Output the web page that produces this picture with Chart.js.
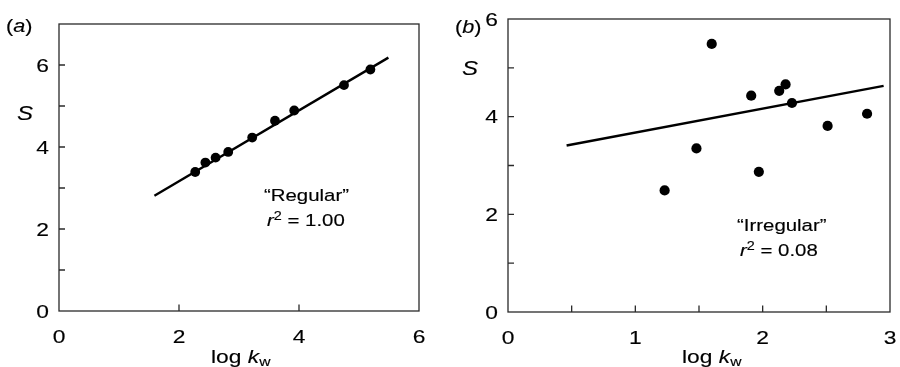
<!DOCTYPE html>
<html>
<head>
<meta charset="utf-8">
<script src="https://cdn.jsdelivr.net/npm/chart.js@4"></script>
<style>
  html, body { margin: 0; padding: 0; background: #fff; }
  #wrap { position: relative; width: 900px; height: 367px; }
  canvas { position: absolute; top: 0; }
  #chartA { left: 0; }
  #chartB { left: 450px; }
</style>
</head>
<body>
<div id="wrap">
  <canvas id="chartA" width="450" height="367"></canvas>
  <canvas id="chartB" width="450" height="367"></canvas>
</div>
<script>
// panel (a) "Regular"
const aX = [2.27, 2.44, 2.61, 2.82, 3.22, 3.60, 3.92, 4.75, 5.19];
const aY = [3.39, 3.62, 3.74, 3.88, 4.23, 4.64, 4.89, 5.51, 5.89];
const aFitX = [1.59, 5.49];
const aFitY = [2.81, 6.18];
const aXLabels = [0, 2, 4, 6];
const aYLabels = [0, 2, 4, 6];

// panel (b) "Irregular"
const bX = [1.23, 1.48, 1.60, 1.91, 1.97, 2.13, 2.18, 2.23, 2.51, 2.82];
const bY = [2.49, 3.35, 5.49, 4.43, 2.87, 4.53, 4.66, 4.28, 3.81, 4.06];
const bFitX = [0.46, 2.95];
const bFitY = [3.41, 4.63];
const bXLabels = [0, 1, 2, 3];
const bYLabels = [0, 2, 4, 6];

const FONT = '"Liberation Sans", Arial, Helvetica, sans-serif';
const SX = 1.2; // the original lettering is a little wide
const INK = '#000';

function toPoints(xs, ys) {
  return xs.map((x, i) => ({ x: x, y: ys[i] }));
}

function font(p) {
  return (p.it ? 'italic ' : '') + (p.size || 18) + 'px ' + FONT;
}

function drawRuns(ctx, parts, x, y, align) {
  let total = 0;
  const widths = parts.map(p => {
    ctx.font = font(p);
    const w = ctx.measureText(p.t).width * SX;
    total += w;
    return w;
  });
  let cx = x;
  if (align === 'right') cx = x - total;
  if (align === 'center') cx = x - total / 2;
  ctx.fillStyle = INK;
  ctx.strokeStyle = INK;
  ctx.lineWidth = 0.15;
  ctx.textBaseline = 'alphabetic';
  ctx.textAlign = 'left';
  parts.forEach((p, i) => {
    ctx.save();
    ctx.font = font(p);
    ctx.translate(cx, y + (p.dy || 0));
    ctx.scale(SX, 1);
    ctx.fillText(p.t, 0, 0);
    ctx.strokeText(p.t, 0, 0);
    ctx.restore();
    cx += widths[i];
  });
}

// frame, inward ticks, tick labels and the lettering
function framePlugin(cfg) {
  return {
    id: 'frame',
    afterDraw(chart) {
      const ctx = chart.ctx;
      const a = chart.chartArea;
      const xs = chart.scales.x, ys = chart.scales.y;
      ctx.save();
      ctx.strokeStyle = '#2a2a2a';
      ctx.lineWidth = 1.3;
      ctx.strokeRect(a.left, a.top, a.right - a.left, a.bottom - a.top);

      ctx.beginPath();
      xs.ticks.forEach(t => {
        if (t.value <= xs.min || t.value >= xs.max) return;
        const px = xs.getPixelForValue(t.value);
        ctx.moveTo(px, a.bottom);
        ctx.lineTo(px, a.bottom - 6.5);
      });
      ys.ticks.forEach(t => {
        if (t.value <= ys.min || t.value >= ys.max) return;
        const py = ys.getPixelForValue(t.value);
        ctx.moveTo(a.left, py);
        ctx.lineTo(a.left + 6, py);
      });
      ctx.stroke();

      cfg.xLabels.forEach(v => {
        drawRuns(ctx, [{ t: String(v), size: 19 }], xs.getPixelForValue(v), a.bottom + 32, 'center');
      });
      cfg.yLabels.forEach(v => {
        drawRuns(ctx, [{ t: String(v), size: 19 }], a.left - 10, ys.getPixelForValue(v) + 6.8, 'right');
      });

      drawRuns(ctx, [{ t: '(', size: 18 }, { t: cfg.tag, it: true, size: 18 }, { t: ')', size: 18 }], cfg.tagX, cfg.tagY);
      drawRuns(ctx, [{ t: 'S', it: true, size: 20 }], cfg.sX, cfg.sY);
      drawRuns(ctx, [{ t: 'log ', size: 19 }, { t: 'k', it: true, size: 19 }, { t: 'w', size: 13, dy: 3 }], cfg.logX, 362.5);
      drawRuns(ctx, [{ t: '\u201C' + cfg.name + '\u201D', size: 17 }], cfg.noteX, cfg.noteY);
      drawRuns(ctx, [{ t: 'r', it: true, size: 17 }, { t: '2', size: 12, dy: -6.5 }, { t: ' = ' + cfg.r2, size: 17 }], cfg.noteX + 3, cfg.noteY + 25);
      ctx.restore();
    }
  };
}

function makeChart(id, pts, fit, opt) {
  return new Chart(document.getElementById(id), {
    type: 'scatter',
    data: {
      datasets: [{
        data: pts,
        backgroundColor: '#000',
        borderWidth: 0,
        pointRadius: opt.dot,
        pointHoverRadius: opt.dot
      }, {
        data: fit,
        showLine: true,
        borderColor: '#000',
        borderWidth: 2.4,
        pointRadius: 0,
        pointHoverRadius: 0
      }]
    },
    options: {
      responsive: false,
      animation: false,
      events: [],
      layout: { padding: { top: opt.top, right: opt.right, left: 0, bottom: 0 } },
      plugins: { legend: { display: false }, tooltip: { enabled: false } },
      scales: {
        x: {
          type: 'linear', min: 0, max: opt.xMax,
          ticks: { display: false, stepSize: opt.xStep },
          grid: { display: false }, border: { display: false },
          afterFit: s => { s.height = opt.xH; }
        },
        y: {
          type: 'linear', min: 0, max: opt.yMax,
          ticks: { display: false, stepSize: 1 },
          grid: { display: false }, border: { display: false },
          afterFit: s => { s.width = opt.yW; }
        }
      }
    },
    plugins: [framePlugin(opt)]
  });
}

makeChart('chartA', toPoints(aX, aY), toPoints(aFitX, aFitY), {
  dot: 4.9, top: 24, right: 31, xH: 56, yW: 59,
  xMax: 6, yMax: 7, xStep: 2,
  xLabels: aXLabels, yLabels: aYLabels,
  tag: 'a', tagX: 6, tagY: 32, sX: 17, sY: 120, logX: 211,
  name: 'Regular', r2: '1.00', noteX: 264, noteY: 201
});

makeChart('chartB', toPoints(bX, bY), toPoints(bFitX, bFitY), {
  dot: 5.1, top: 19, right: 10, xH: 55, yW: 58,
  xMax: 3, yMax: 6, xStep: 0.5,
  xLabels: bXLabels, yLabels: bYLabels,
  tag: 'b', tagX: 5, tagY: 33, sX: 12, sY: 75, logX: 232,
  name: 'Irregular', r2: '0.08', noteX: 287, noteY: 231
});
</script>
</body>
</html>
